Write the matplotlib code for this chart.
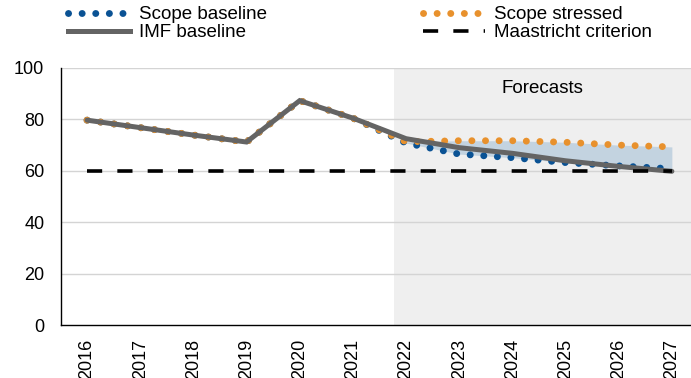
import numpy as np
import matplotlib
matplotlib.use("Agg")
from matplotlib import pyplot as plt
from matplotlib.lines import Line2D

## data
years = [2016, 2017, 2018, 2019, 2020, 2021, 2022, 2023, 2024, 2025, 2026, 2027]
imf_baseline = [79.7, 76.8, 73.9, 71.2, 87.3, 80.5, 72.5, 69.0, 66.8, 63.9, 61.7, 59.8]
scope_baseline = [79.7, 76.8, 73.9, 71.2, 87.3, 80.5, 70.8, 66.5, 65.1, 63.2, 61.9, 60.8]
scope_stressed = [79.7, 76.8, 73.9, 71.2, 87.3, 80.5, 71.3, 71.7, 71.7, 71.1, 70.0, 69.3]
maastricht = [60] * len(years)
forecast_start = 2021.77
forecast_years = years[6:]

BLUE = "#0a5294"
ORANGE = "#e8912d"
GREY = "#646464"
FILL = "#c3d3e0"
SHADE = "#efefef"

plt.rcParams["font.family"] = ["Liberation Sans", "DejaVu Sans"]
plt.rcParams["font.size"] = 13

fig = plt.figure(figsize=(6.91, 3.78), dpi=100)
ax = fig.add_axes([61 / 691, 1 - 325 / 378, 630 / 691, 257 / 378])

ax.set_xlim(2015.51, 2027.36)
ax.set_ylim(0, 100)

ax.axvspan(forecast_start, 2027.36, color=SHADE, zorder=0, lw=0)
for v in [20, 40, 60, 80, 100]:
    ax.axhline(v, color="#d4d4d4", lw=1.0, zorder=0.5)

ax.fill_between(forecast_years, scope_baseline[6:], scope_stressed[6:],
                color=FILL, lw=0, zorder=1)

dot = (0, (0.01, 1.95))
ax.plot(years, scope_baseline, color=BLUE, lw=5.0, linestyle=dot,
        dash_capstyle="round", zorder=2)
ax.plot(years, scope_stressed, color=ORANGE, lw=5.0, linestyle=dot,
        dash_capstyle="round", zorder=3)
ax.plot(years, imf_baseline, color=GREY, lw=3.6, zorder=4,
        solid_capstyle="round", solid_joinstyle="miter")
ax.plot(years, maastricht, color="black", lw=2.6, dashes=(4.2, 4.2), zorder=5)

ax.text((forecast_start + 2027.36) / 2, 92.0, "Forecasts", ha="center",
        va="center", fontsize=13.5)

ax.set_xticks(years)
ax.set_xticklabels([str(y) for y in years], rotation=90)
ax.set_yticks([0, 20, 40, 60, 80, 100])
ax.tick_params(axis="y", length=0, pad=12)
ax.tick_params(axis="x", length=0, pad=10)
for s in ["top", "right"]:
    ax.spines[s].set_visible(False)
for s in ["left", "bottom"]:
    ax.spines[s].set_color("black")
    ax.spines[s].set_linewidth(1.0)

## legend, two separate columns
h_sb = Line2D([], [], color=BLUE, lw=5.0, linestyle=dot, dash_capstyle="round")
h_imf = Line2D([], [], color=GREY, lw=3.6)
h_ss = Line2D([], [], color=ORANGE, lw=5.0, linestyle=dot, dash_capstyle="round")
h_m = Line2D([], [], color="black", lw=2.6, dashes=(4.2, 4.2))

kw = dict(frameon=False, handlelength=3.3, handletextpad=0.5, labelspacing=0.05,
          fontsize=13.5, borderaxespad=0, borderpad=0)
fig.legend([h_sb, h_imf], ["Scope baseline", "IMF baseline"],
           loc="upper left", bbox_to_anchor=(68 / 691, 1 - 6 / 378), **kw)
fig.legend([h_ss, h_m], ["Scope stressed", "Maastricht criterion"],
           loc="upper left", bbox_to_anchor=(423 / 691, 1 - 6 / 378), **kw)

fig.savefig("out.png", dpi=100)
